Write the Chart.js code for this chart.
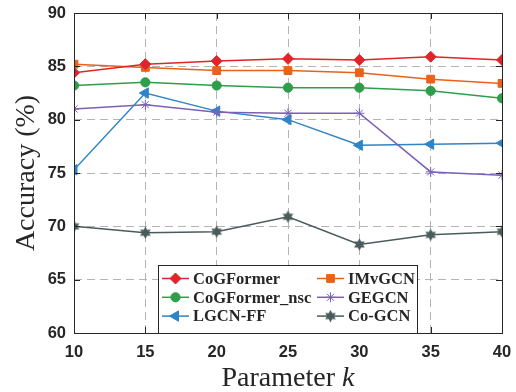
<!DOCTYPE html>
<html>
<head>
<meta charset="utf-8">
<script src="https://cdn.jsdelivr.net/npm/chart.js@4.4.0/dist/chart.umd.min.js"></script>
<style>
  html, body { margin: 0; padding: 0; background: #fff; }
</style>
</head>
<body>
<canvas id="c" width="516" height="392"></canvas>
<script>
// values
const kValues = [10, 15, 20, 25, 30, 35, 40];
const yTicks = [60, 65, 70, 75, 80, 85, 90];
const seriesNames = ['CoGFormer', 'IMvGCN', 'CoGFormer_nsc', 'GEGCN', 'LGCN-FF', 'Co-GCN'];
const cogformer    = [84.4, 85.2, 85.5, 85.7, 85.6, 85.9, 85.6];
const imvgcn       = [85.2, 84.9, 84.6, 84.6, 84.4, 83.8, 83.4];
const cogformerNsc = [83.2, 83.5, 83.2, 83.0, 83.0, 82.7, 82.0];
const gegcn        = [81.0, 81.4, 80.7, 80.6, 80.6, 75.1, 74.8];
const lgcnff       = [75.3, 82.5, 80.8, 80.0, 77.6, 77.7, 77.8];
const cogcn        = [70.0, 69.4, 69.5, 70.9, 68.3, 69.2, 69.5];

const TXT = '#262626';

// filled six pointed star (matlab hexagram) as a small canvas
function hexagram(color) {
  const cv = document.createElement('canvas');
  cv.width = 13; cv.height = 13;
  const g = cv.getContext('2d');
  g.fillStyle = color;
  g.beginPath();
  for (let i = 0; i < 12; i++) {
    const r = i % 2 ? 3.4 : 6.2;
    const a = -Math.PI / 2 + i * Math.PI / 6;
    const px = 6.5 + r * Math.cos(a), py = 6.5 + r * Math.sin(a);
    i ? g.lineTo(px, py) : g.moveTo(px, py);
  }
  g.closePath();
  g.fill();
  return cv;
}

function mk(label, vals, color, style, radius, rot) {
  return {
    label: label,
    data: vals.map((v, i) => ({ x: kValues[i], y: v })),
    borderColor: color,
    backgroundColor: color,
    borderWidth: 1.5,
    pointStyle: style,
    pointRadius: radius,
    pointRotation: rot || 0,
    pointBackgroundColor: color,
    pointBorderColor: color,
    pointBorderWidth: 1,
    tension: 0
  };
}

const datasets = [
  mk(seriesNames[0], cogformer, '#e0242a', 'rectRot', 5.5),
  mk(seriesNames[1], imvgcn, '#e8621a', 'rect', 5.5),
  mk(seriesNames[2], cogformerNsc, '#2f9e4a', 'circle', 4.6),
  mk(seriesNames[3], gegcn, '#7a61b6', 'star', 5),
  mk(seriesNames[4], lgcnff, '#2f84c6', 'triangle', 6, -90),
  mk(seriesNames[5], cogcn, '#4a5b5b', hexagram('#4a5b5b'), 6)
];

const frame = {
  id: 'frame',
  afterDraw(chart) {
    const { ctx, chartArea: a, scales: { x, y } } = chart;
    ctx.save();
    // box and inward ticks
    ctx.strokeStyle = TXT;
    ctx.lineWidth = 1;
    ctx.beginPath();
    kValues.forEach(k => {
      const px = Math.round(x.getPixelForValue(k)) + 0.5;
      ctx.moveTo(px, a.bottom); ctx.lineTo(px, a.bottom - 6);
      ctx.moveTo(px, a.top); ctx.lineTo(px, a.top + 6);
    });
    yTicks.forEach(t => {
      const py = Math.round(y.getPixelForValue(t)) + 0.5;
      ctx.moveTo(a.left, py); ctx.lineTo(a.left + 6, py);
      ctx.moveTo(a.right, py); ctx.lineTo(a.right - 6, py);
    });
    ctx.stroke();
    ctx.strokeRect(Math.round(a.left) + 0.5, Math.round(a.top) + 0.5,
                   Math.round(a.width), Math.round(a.height));

    // axis titles
    ctx.fillStyle = TXT;
    ctx.textBaseline = 'middle';
    const f1 = '28px "Liberation Serif"';
    const f2 = 'italic 28px "Liberation Serif"';
    ctx.font = f1;
    const w1 = ctx.measureText('Parameter ').width;
    ctx.font = f2;
    const w2 = ctx.measureText('k').width;
    let sx = (a.left + a.right) / 2 - (w1 + w2) / 2;
    ctx.textAlign = 'left';
    ctx.font = f1; ctx.fillText('Parameter ', sx, 379);
    ctx.font = f2; ctx.fillText('k', sx + w1, 379);

    ctx.save();
    ctx.translate(27, (a.top + a.bottom) / 2);
    ctx.rotate(-Math.PI / 2);
    ctx.textAlign = 'center';
    ctx.font = '28px "Liberation Serif"';
    ctx.fillText('Accuracy (%)', 0, 0);
    ctx.restore();

    // legend
    const bx = 158, by = 265, bw = 259, bh = 68;
    ctx.fillStyle = '#fff';
    ctx.fillRect(bx, by, bw, bh);
    ctx.strokeStyle = TXT;
    ctx.strokeRect(bx + 0.5, by + 0.5, bw, bh);
    ctx.font = 'bold 16.5px "Liberation Serif"';
    ctx.textAlign = 'left';
    chart.data.datasets.forEach((ds, i) => {
      const col = i % 2, row = Math.floor(i / 2);
      const lx = col ? 317 : 162;
      const ly = 278.5 + row * 18.8;
      ctx.strokeStyle = ds.borderColor;
      ctx.lineWidth = 1.5;
      ctx.beginPath(); ctx.moveTo(lx, ly); ctx.lineTo(lx + 27, ly); ctx.stroke();
      ctx.fillStyle = ds.pointBackgroundColor;
      ctx.lineWidth = 1;
      Chart.helpers.drawPoint(ctx, {
        pointStyle: ds.pointStyle, rotation: ds.pointRotation,
        radius: ds.pointRadius, borderWidth: 1
      }, lx + 13.5, ly);
      ctx.fillStyle = TXT;
      ctx.fillText(ds.label, lx + 31, ly + 1);
    });
    ctx.restore();
  }
};

new Chart(document.getElementById('c'), {
  type: 'line',
  data: { datasets: datasets },
  options: {
    responsive: false,
    animation: false,
    layout: { padding: { top: 13, right: 14, left: 0, bottom: 0 } },
    plugins: { legend: { display: false }, tooltip: { enabled: false } },
    scales: {
      x: {
        type: 'linear', min: 10, max: 40,
        afterFit: s => { s.height = 59; s.paddingRight = 0; s.paddingLeft = 0; },
        afterBuildTicks: s => { s.ticks = kValues.map(v => ({ value: v })); },
        ticks: { color: TXT, padding: 10, font: { family: '"Liberation Sans"', size: 16.5, weight: 'bold' } },
        grid: { color: '#b4b4b4', lineWidth: 1, drawTicks: false },
        border: { display: false, dash: [8, 5] }
      },
      y: {
        min: 60, max: 90,
        afterFit: s => { s.width = 74; s.paddingTop = 0; s.paddingBottom = 0; },
        afterBuildTicks: s => { s.ticks = yTicks.map(v => ({ value: v })); },
        ticks: { color: TXT, padding: 8, font: { family: '"Liberation Sans"', size: 16.5, weight: 'bold' } },
        grid: { color: '#b4b4b4', lineWidth: 1, drawTicks: false },
        border: { display: false, dash: [8, 5] }
      }
    }
  },
  plugins: [frame]
});
</script>
</body>
</html>
